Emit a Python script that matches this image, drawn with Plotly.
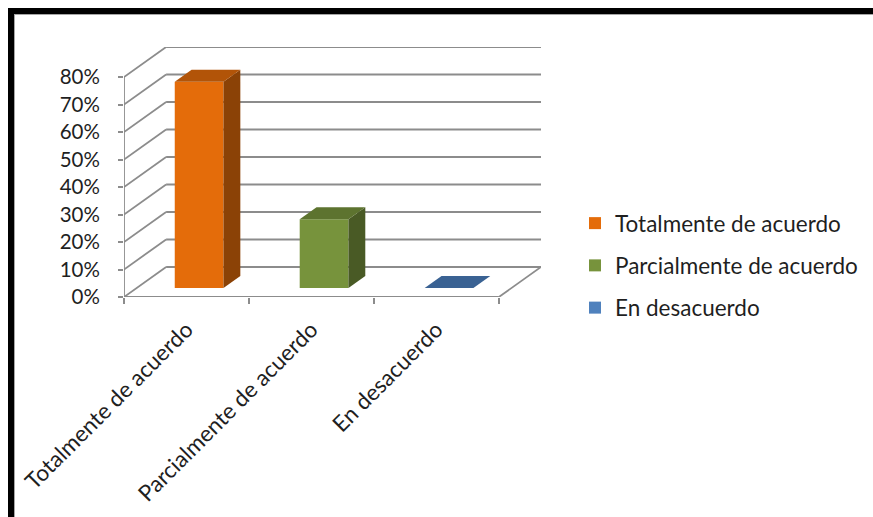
import plotly.graph_objects as go

# ---- data -------------------------------------------------------------
categories = ["Totalmente de acuerdo", "Parcialmente de acuerdo", "En desacuerdo"]
values = [75, 25, 0]                      # percent
y_ticks = [0, 10, 20, 30, 40, 50, 60, 70, 80]
y_tick_labels = [f"{t}%" for t in y_ticks]

# ---- style ------------------------------------------------------------
front_colors = ["#E46C0A", "#77933C", "#4F81BD"]
top_colors = ["#B25408", "#5D732F", "#3A6293"]
side_colors = ["#8B4206", "#495A25", "#2F5079"]
GRID = "#8C8C8C"
FONT = "Lato, 'Open Sans', sans-serif"
TEXT = "#1F1F1F"
LABEL_SIZE = 22.5

# oblique projection of the depth axis (in data units)
DX = 0.337      # horizontal shift of the back plane, in category units
DY = 10.91      # vertical shift of the back plane, in percent units
Z0, Z1 = 0.3, 0.7   # bar depth (fraction of the floor depth)
BAR_W = 0.39        # bar width in category units
Y_MAX = y_ticks[-1]
N = len(categories)

# pixel box of the plotting area
W, H = 873, 517
PL, PR, PT, PB = 124, 541, 47, 297


def px_x(p):
    return (p - PL) / (PR - PL)


def px_y(p):
    return (PB - p) / (PB - PT)


fig = go.Figure()

# front faces as real bars, side and top faces as filled polygons
for i, (cat, v) in enumerate(zip(categories, values)):
    c = i + 0.5
    x0 = c - BAR_W / 2 + Z0 * DX
    x1 = x0 + BAR_W
    yb = Z0 * DY
    yt = v + yb
    ddx = (Z1 - Z0) * DX
    ddy = (Z1 - Z0) * DY

    fig.add_trace(go.Bar(
        x=[c + Z0 * DX], y=[v], base=[yb], width=BAR_W,
        name=cat, legendgroup=cat,
        marker=dict(color=front_colors[i], line=dict(width=0)),
        hovertemplate=f"{cat}: {v}%<extra></extra>",
    ))
    # right side face
    fig.add_trace(go.Scatter(
        x=[x1, x1 + ddx, x1 + ddx, x1, x1],
        y=[yb, yb + ddy, yt + ddy, yt, yb],
        mode="lines", fill="toself", fillcolor=side_colors[i],
        line=dict(width=0), showlegend=False, hoverinfo="skip",
        legendgroup=cat,
    ))
    # top face
    fig.add_trace(go.Scatter(
        x=[x0, x1, x1 + ddx, x0 + ddx, x0],
        y=[yt, yt, yt + ddy, yt + ddy, yt],
        mode="lines", fill="toself", fillcolor=top_colors[i],
        line=dict(width=0), showlegend=False, hoverinfo="skip",
        legendgroup=cat,
    ))

shapes = []
line = dict(color=GRID, width=1.8)
# back wall gridlines and left wall diagonals
for t in y_ticks:
    shapes.append(dict(type="line", xref="x", yref="y", layer="below",
                       x0=DX, y0=t + DY, x1=N + DX, y1=t + DY, line=line))
    shapes.append(dict(type="line", xref="x", yref="y", layer="below",
                       x0=0, y0=t, x1=DX, y1=t + DY, line=line))
# floor outline and front value axis
shapes += [
    dict(type="line", xref="x", yref="y", layer="below",
         x0=0, y0=0, x1=N, y1=0, line=line),
    dict(type="line", xref="x", yref="y", layer="below",
         x0=N, y0=0, x1=N + DX, y1=DY, line=line),
    dict(type="line", xref="x", yref="y", layer="below",
         x0=0, y0=0, x1=0, y1=Y_MAX, line=line),
]
# black frame with a thin grey inner rim
shapes += [
    dict(type="rect", xref="paper", yref="paper", layer="above",
         x0=px_x(8), x1=px_x(14), y0=px_y(8), y1=px_y(H + 5),
         fillcolor="black", line=dict(width=0)),
    dict(type="rect", xref="paper", yref="paper", layer="above",
         x0=px_x(8), x1=px_x(W + 5), y0=px_y(8), y1=px_y(14),
         fillcolor="black", line=dict(width=0)),
    dict(type="line", xref="paper", yref="paper", layer="above",
         x0=px_x(14.5), x1=px_x(14.5), y0=px_y(14), y1=px_y(H + 5),
         line=dict(color="#A6A6A6", width=1)),
    dict(type="line", xref="paper", yref="paper", layer="above",
         x0=px_x(14), x1=px_x(W + 5), y0=px_y(14.5), y1=px_y(14.5),
         line=dict(color="#A6A6A6", width=1)),
]

fig.update_layout(
    width=W, height=H,
    margin=dict(l=PL, r=W - PR, t=PT, b=H - PB, autoexpand=False),
    paper_bgcolor="white", plot_bgcolor="white",
    font=dict(family=FONT, color=TEXT, size=20),
    shapes=shapes,
    barmode="overlay",
    showlegend=True,
    legend=dict(
        x=px_x(575), y=px_y(202), xanchor="left", yanchor="top",
        font=dict(size=LABEL_SIZE, family=FONT, color=TEXT),
        tracegroupgap=10, bgcolor="rgba(0,0,0,0)",
    ),
    xaxis=dict(
        range=[0, N + DX], showgrid=False, zeroline=False, showline=False,
        tickmode="array", tickvals=[i + 0.5 for i in range(N)],
        ticktext=categories, tickangle=-45, ticks="",
        ticklabelstandoff=14,
        tickfont=dict(size=LABEL_SIZE, family=FONT, color=TEXT),
        minor=dict(tickmode="array", tickvals=list(range(N + 1)),
                   ticks="outside", ticklen=6, tickwidth=1.8, tickcolor=GRID,
                   showgrid=False),
        fixedrange=True,
    ),
    yaxis=dict(
        range=[0, Y_MAX + DY], showgrid=False, zeroline=False, showline=False,
        tickmode="array", tickvals=y_ticks, ticktext=y_tick_labels,
        ticks="outside", ticklen=5, tickwidth=1.8, tickcolor=GRID,
        ticklabelstandoff=14,
        tickfont=dict(size=20.5, family=FONT, color=TEXT),
        fixedrange=True,
    ),
)

fig.write_html("out.html")
